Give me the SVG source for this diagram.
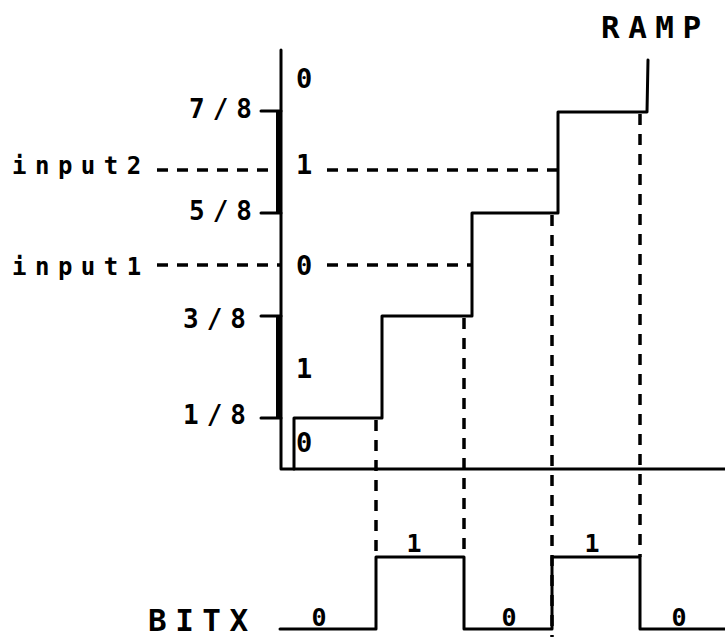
<svg xmlns="http://www.w3.org/2000/svg" width="725" height="637" viewBox="0 0 725 637">
<style>
.s{fill:none;stroke:#000;stroke-width:3;stroke-linecap:round;stroke-linejoin:round}
.d{fill:none;stroke:#000;stroke-width:3.5;stroke-dasharray:11 9}
.t{font-family:"DejaVu Sans Mono","Liberation Mono",monospace;font-weight:bold;fill:#000}
.lab{font-size:24px;letter-spacing:8.5px}
.frac{font-size:26px;letter-spacing:8px}
.dig{font-size:27px}
.big{font-size:31px;letter-spacing:8.5px}
.bit{font-size:25px;text-anchor:middle}
</style>
<rect width="725" height="637" fill="#fff"/>
<g id="axes">
<path class="s" d="M281,50 V469 H725"/>
<path class="s" d="M261,111 H281 M261,213 H281 M261,316 H281 M261,418 H281"/>
<rect x="276" y="112" width="5" height="101" fill="#000"/>
<rect x="276" y="317" width="5" height="101" fill="#000"/>
</g>
<g id="tick-labels">
<text class="t frac" x="189" y="118">7/8</text>
<text class="t frac" x="189" y="220">5/8</text>
<text class="t frac" x="183" y="328">3/8</text>
<text class="t frac" x="183" y="424">1/8</text>
</g>
<g id="inputs">
<text class="t lab" x="12" y="174">input2</text>
<text class="t lab" x="12" y="275">input1</text>
</g>
<g id="region-digits">
<text class="t dig" x="296" y="88">0</text>
<text class="t dig" x="296" y="174">1</text>
<text class="t dig" x="296" y="275">0</text>
<text class="t dig" x="296" y="378">1</text>
<text class="t dig" x="296" y="452">0</text>
</g>
<g id="ramp">
<path class="s" d="M294,469 V418 H382 V316 H472 V213 H558 V112 H647 L648,60"/>
<text class="t big" x="601" y="38">RAMP</text>
</g>
<g id="connectors">
<path class="d" d="M157,170 H272 M327,170 H558"/>
<path class="d" d="M157,265 H281 M327,265 H472"/>
<path class="d" d="M376,420 V557"/>
<path class="d" d="M464,318 V557"/>
<path class="d" d="M552,215 V637"/>
<path class="d" d="M640,114 V557"/>
</g>
<g id="bitx">
<text class="t big" x="148" y="631">BITX</text>
<path class="s" d="M280,629 H376 V557 H464 V629 H552 V557 H640 V629 H725"/>
<text class="t bit" x="319" y="626">0</text>
<text class="t bit" x="414" y="552">1</text>
<text class="t bit" x="509" y="626">0</text>
<text class="t bit" x="592" y="552">1</text>
<text class="t bit" x="679" y="626">0</text>
</g>
</svg>
